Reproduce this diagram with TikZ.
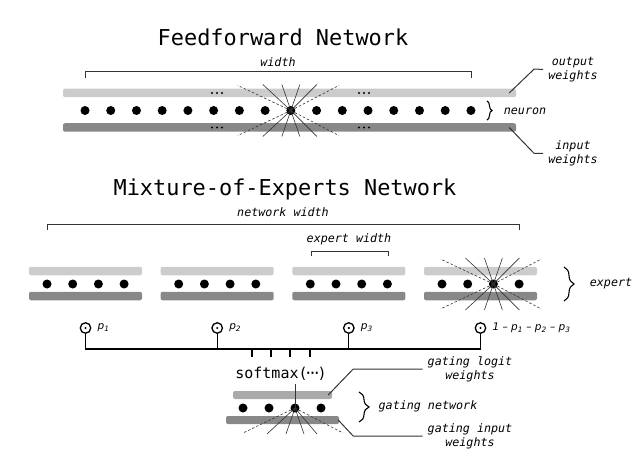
\documentclass[tikz,border=0pt]{standalone}
\usepackage{fontspec}
\setmonofont{DejaVu Sans Mono}
\setsansfont{DejaVu Sans}
\usetikzlibrary{decorations.pathreplacing}
\definecolor{wlight}{HTML}{CCCCCC}
\definecolor{wmid}{HTML}{AAAAAA}
\definecolor{wdark}{HTML}{888888}
\definecolor{ink}{HTML}{333333}
\begin{document}
\begin{tikzpicture}[x=1pt,y=1pt]
	\tikzstyle{every node}+=[inner sep=0pt]
	\tikzstyle{neuron}=[circle,fill=black,minimum size=9pt]
	\tikzstyle{wbar}=[rectangle,rounded corners=2pt,minimum height=8.5pt]
	\tikzstyle{heading}=[font=\ttfamily\fontsize{21.9}{26}\selectfont]
	\tikzstyle{note}=[font=\ttfamily\itshape\fontsize{11.7}{14}\selectfont,align=center]
	\tikzstyle{leader}=[note,inner xsep=5pt]
	\tikzstyle{prob}=[font=\sffamily\itshape\fontsize{10.5}{12}\selectfont,anchor=west]
	\tikzstyle{gate}=[circle,draw=black,line width=1.3pt,minimum size=10.5pt]
	\tikzstyle{ray}=[ink,line width=0.6pt]
	\tikzstyle{dray}=[ray,dash pattern=on 2.5pt off 2pt]
	\tikzstyle{thinline}=[ink,line width=1pt]
	\tikzstyle{bus}=[black,line width=1.3pt]
	\tikzstyle{curly}=[black,line width=1.1pt,decorate,decoration={brace,amplitude=5pt}]
	\tikzstyle{bigcurly}=[black,line width=1.1pt,decorate,decoration={brace,amplitude=10pt}]
	\useasboundingbox (0,0) rectangle (640,-468);
	\node[heading] (fftitle) at (283,-37) {Feedforward Network};
	\node[note] (ffwidth) at (278,-62) {width};
	\draw[thinline] (85,-78) -- (85,-72) -- (471,-72) -- (471,-78);
	\node[wbar,fill=wlight,minimum width=453pt] (ffout) at (289.5,-93) {};
	\node[wbar,fill=wdark,minimum width=453pt] (ffin) at (289.5,-127.5) {};
	\foreach \x in {212,217,222,359,364,369} {
		\fill (\x,-93) circle (1.2);
		\fill (\x,-127.5) circle (1.2);
	}
	\foreach \i in {0,...,15}
		\node[neuron] (ff\i) at (85+\i*25.73,-110.5) {};
	\foreach \dx in {-28,-9,9,26} {
		\draw[ray] (ff8.center) -- ++(\dx,26);
		\draw[ray] (ff8.center) -- ++(\dx,-26);
	}
	\foreach \dx in {-53,48} {
		\draw[dray] (ff8.center) -- ++(\dx,25);
		\draw[dray] (ff8.center) -- ++(\dx,-25);
	}
	\draw[curly] (487,-101) -- (487,-120);
	\node[note] (neuronlbl) at (525,-111) {neuron};
	\node[leader] (outlbl) at (573,-69.5) {output\\weights};
	\node[leader] (inlbl) at (573,-153.5) {input\\weights};
	\draw[thinline] ([xshift=-7pt]ffout.east) -- ++(25,24) -- (outlbl.west);
	\draw[thinline] ([xshift=-7pt]ffin.east) -- ++(25,-26) -- (inlbl.west);
	\node[heading] (moetitle) at (285,-189) {Mixture-of-Experts Network};
	\node[note] (netwidth) at (283,-212) {network width};
	\draw[thinline] (47,-230) -- (47,-224) -- (519,-224) -- (519,-230);
	\node[note] (expwidth) at (349,-239.5) {expert width};
	\draw[thinline] (311,-256) -- (311,-251) -- (388,-251) -- (388,-256);
	\foreach \e/\l in {1/29,2/160.7,3/292.3,4/424} {
		\node[wbar,fill=wlight,minimum width=113pt] (e\e-out) at (\l+56.5,-271) {};
		\node[wbar,fill=wdark,minimum width=113pt] (e\e-in) at (\l+56.5,-296) {};
		\foreach \k in {0,...,3}
			\node[neuron] (e\e-\k) at (\l+18+\k*25.7,-284) {};
		\node[gate] (p\e) at (\l+56.5,-328) {};
		\fill (p\e) circle (1.2);
	}
	\foreach \dx in {-28,-9,9,26} {
		\draw[ray] (e4-2.center) -- ++(\dx,26);
		\draw[ray] (e4-2.center) -- ++(\dx,-26);
	}
	\foreach \dx in {-53,48} {
		\draw[dray] (e4-2.center) -- ++(\dx,25);
		\draw[dray] (e4-2.center) -- ++(\dx,-25);
	}
	\draw[bigcurly] (564,-267) -- (564,-301);
	\node[note] (explbl) at (611,-284) {expert};
	\node[prob] (p1lbl) at ([xshift=6pt]p1.east) {p\textsubscript{1}};
	\node[prob] (p2lbl) at ([xshift=6pt]p2.east) {p\textsubscript{2}};
	\node[prob] (p3lbl) at ([xshift=6pt]p3.east) {p\textsubscript{3}};
	\node[prob] (p4lbl) at ([xshift=6pt]p4.east) {1 – p\textsubscript{1} – p\textsubscript{2} – p\textsubscript{3}};
	\coordinate (busl) at (0,-349);
	\draw[bus] (p1.south) |- (p4 |- busl) -- (p4.south);
	\draw[bus] (p2.south) -- (p2 |- busl);
	\draw[bus] (p3.south) -- (p3 |- busl);
	\foreach \x in {252,271,290,310}
		\draw[bus] (\x,-349) -- (\x,-357);
	\node[font=\ttfamily\fontsize{15}{18}\selectfont] (sm) at (281,-374) {softmax(\kern-0.25em·\kern-0.32em·\kern-0.32em·\kern-0.25em)};
	\node[wbar,fill=wmid,minimum width=99pt,minimum height=8pt] (glogit) at (282.5,-395) {};
	\node[wbar,fill=wdark,minimum width=113pt,minimum height=8pt] (ginput) at (282.5,-420) {};
	\foreach \k in {0,...,3}
		\node[neuron] (g\k) at (243+\k*26,-408) {};
	\draw[thinline] ([yshift=-3pt]sm.south -| g2) -- (g2.center);
	\foreach \dx in {-28,-9,9,22}
		\draw[ray] (g2.center) -- ++(\dx,-26);
	\foreach \dx in {-52,48}
		\draw[dray] (g2.center) -- ++(\dx,-25);
	\draw[bigcurly] (359,-392) -- (359,-422);
	\node[note] (gnet) at (428,-406) {gating network};
	\node[leader] (gllbl) at (470,-369) {gating logit\\weights};
	\node[leader] (gilbl) at (470,-436) {gating input\\weights};
	\draw[thinline] ([xshift=-4pt]glogit.east) -- ++(25,26) -- (gllbl.west);
	\draw[thinline] ([xshift=-1pt]ginput.east) -- ++(15,-16) -- (gilbl.west);
\end{tikzpicture}
\end{document}
